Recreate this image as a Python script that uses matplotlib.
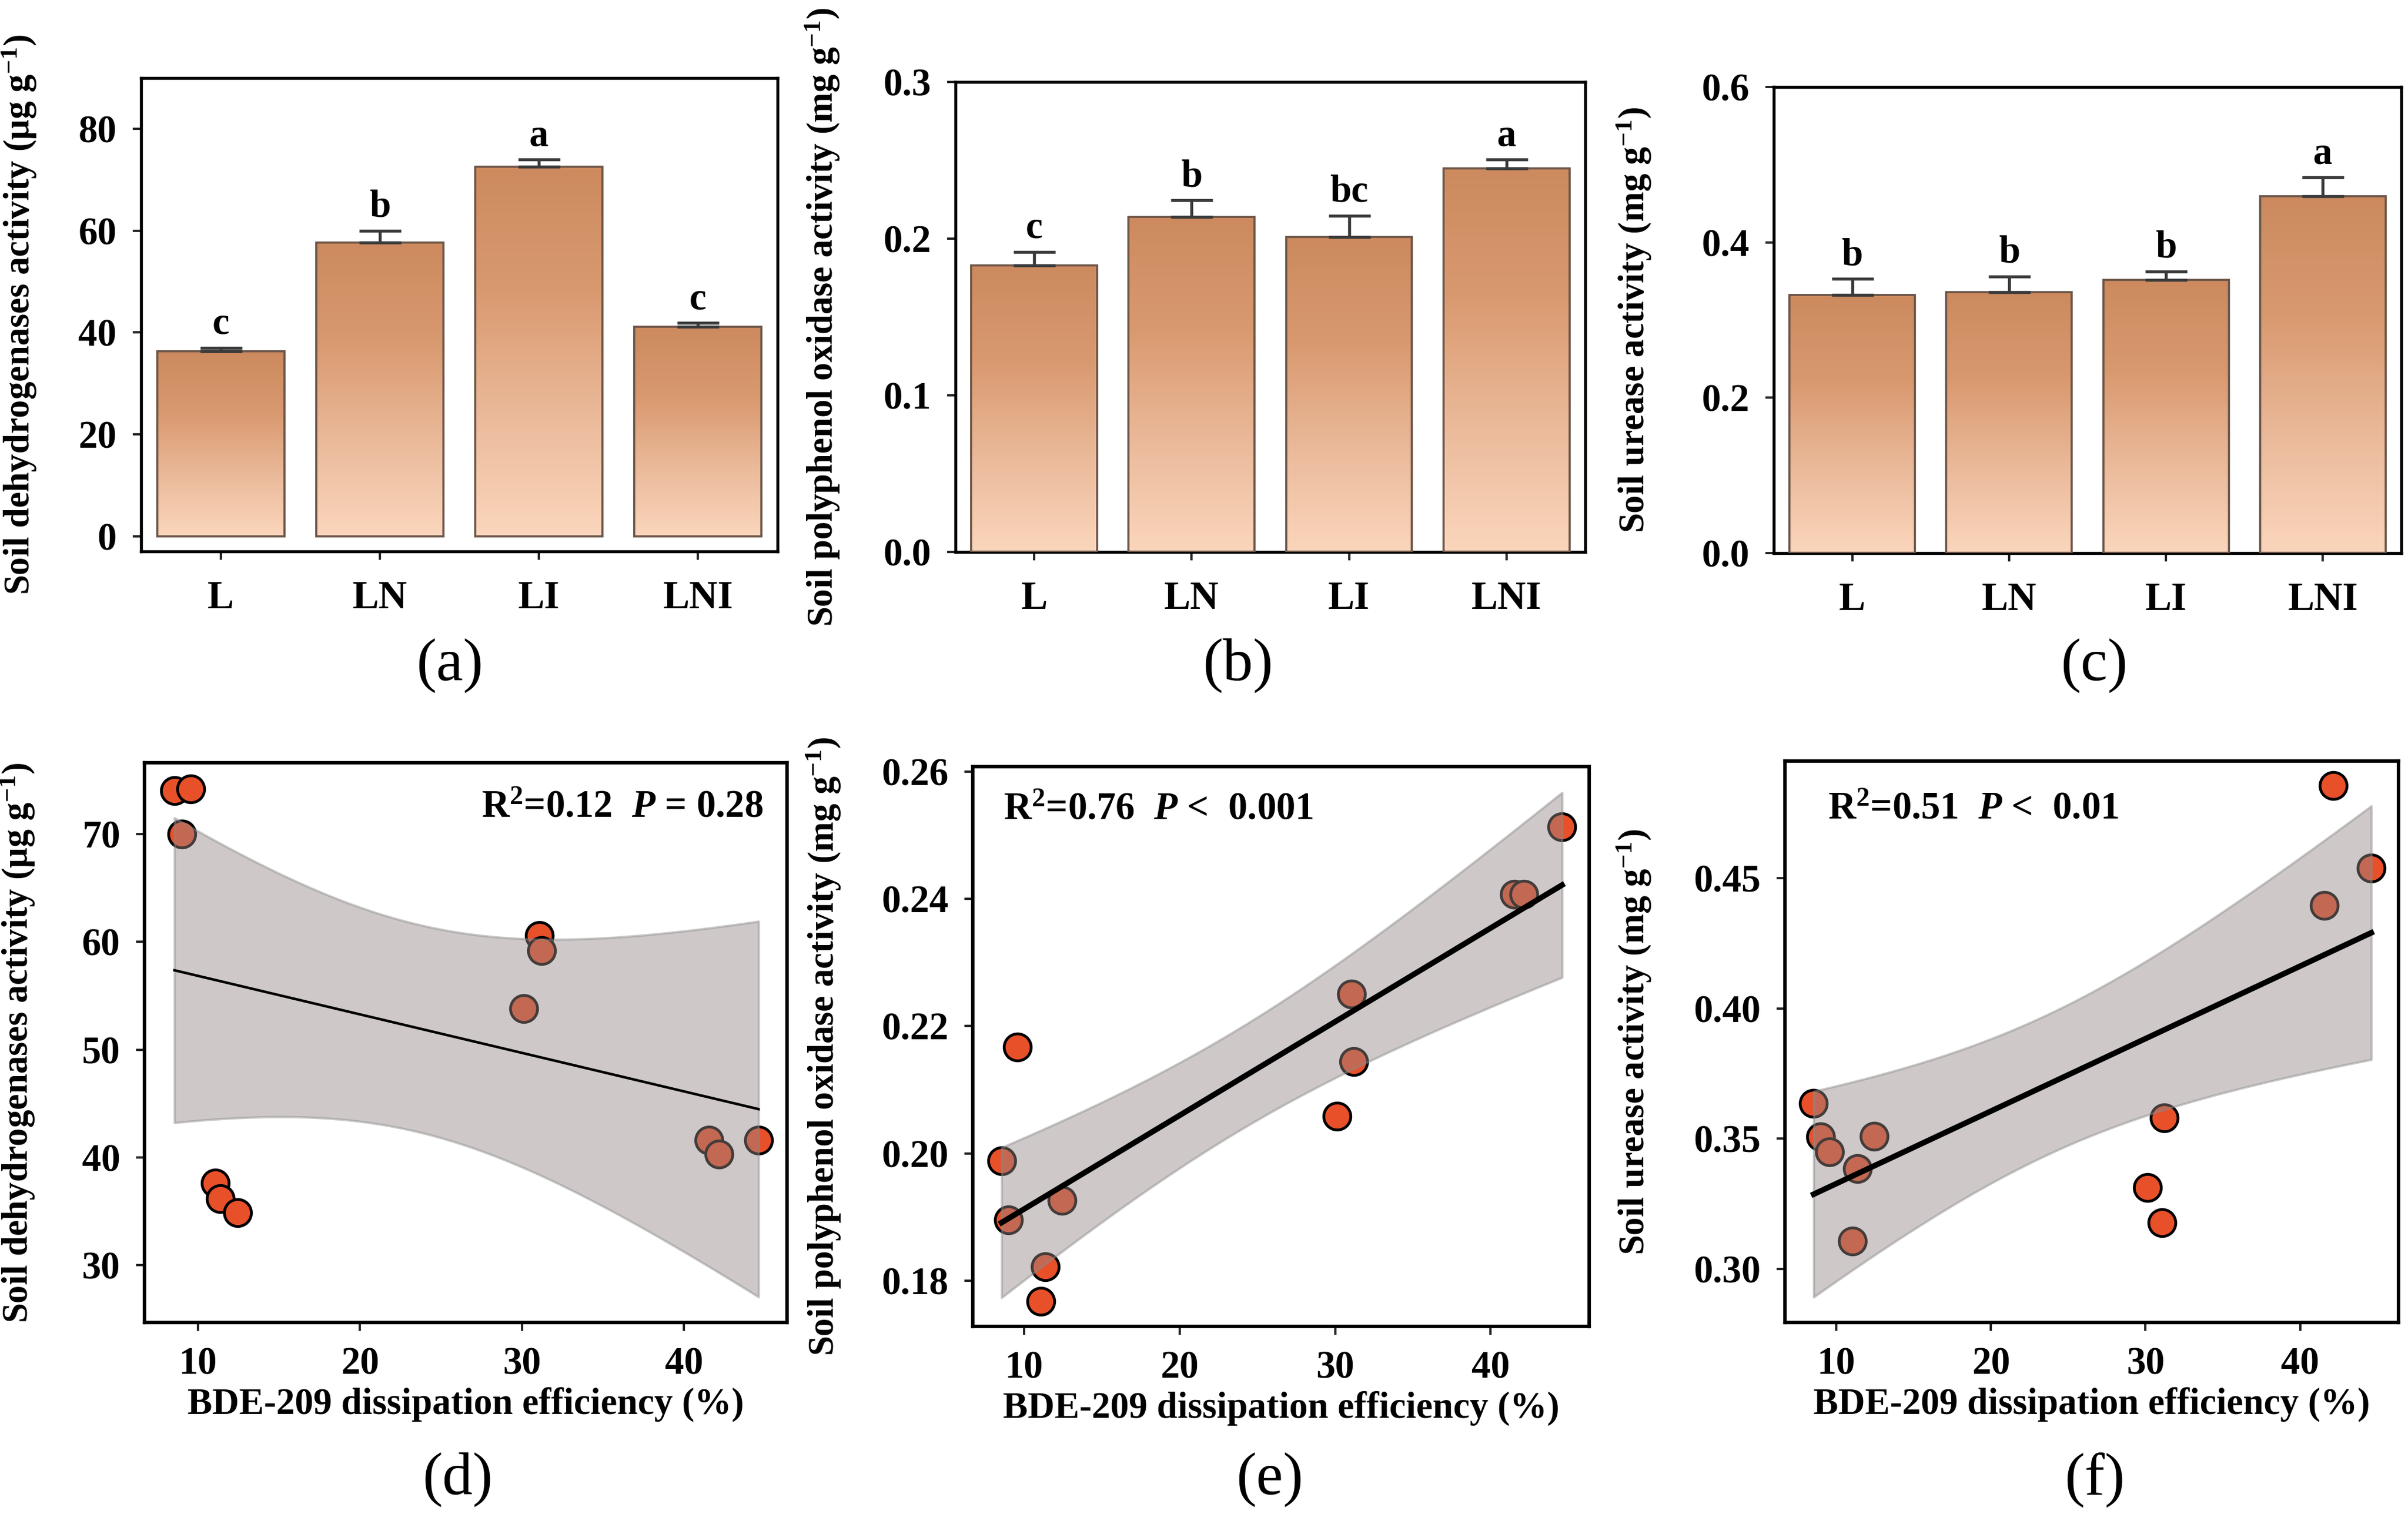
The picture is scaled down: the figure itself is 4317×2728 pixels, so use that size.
import matplotlib.pyplot as plt
import numpy as np
from matplotlib.colors import LinearSegmentedColormap

plt.rcParams['font.family'] = 'Liberation Serif'
plt.rcParams['font.weight'] = 'bold'
plt.rcParams['axes.labelweight'] = 'bold'
plt.rcParams['mathtext.fontset'] = 'custom'
plt.rcParams['mathtext.rm'] = 'Liberation Serif:bold'
plt.rcParams['mathtext.it'] = 'Liberation Serif:italic:bold'
plt.rcParams['mathtext.bf'] = 'Liberation Serif:bold'

# ---- bar data (top row) ----
treatments = ['L', 'LN', 'LI', 'LNI']
dehydrogenase_mean = [36.3, 57.7, 72.6, 41.1]
dehydrogenase_err = [0.7, 2.3, 1.4, 0.75]
dehydrogenase_letters = ['c', 'b', 'a', 'c']
polyphenol_mean = [0.183, 0.214, 0.201, 0.245]
polyphenol_err = [0.0085, 0.0105, 0.0137, 0.0055]
polyphenol_letters = ['c', 'b', 'bc', 'a']
urease_mean = [0.332, 0.336, 0.352, 0.459]
urease_err = [0.021, 0.020, 0.0106, 0.0244]
urease_letters = ['b', 'b', 'b', 'a']

# ---- scatter data (bottom row) ----
dissipation = [8.55, 9.0, 9.57, 11.07, 11.37, 12.45, 30.12, 31.07, 31.2, 41.55, 42.15, 44.6]
dehydrogenase_pts = [74.0, 70.0, 74.2, 37.6, 36.2, 34.9, 53.8, 60.6, 59.2, 41.6, 40.3, 41.6]
polyphenol_pts = [0.1988, 0.1895, 0.2167, 0.1767, 0.1822, 0.1926, 0.2058, 0.2250, 0.2144, 0.2407, 0.2407, 0.2513]
urease_pts = [0.3635, 0.3508, 0.3450, 0.3107, 0.3385, 0.3510, 0.3312, 0.3177, 0.3580, 0.4395, 0.4857, 0.4540]

FS = 16.5       # tick labels, letters, stats
FS_LABEL = 15.5  # axis titles
BAR_EDGE = '#6b5548'
ERR_COLOR = '#3a3a3a'
POINT_COLOR = '#e8502a'
BAND_COLOR = '#968785'
BAR_CMAP = LinearSegmentedColormap.from_list('bar', ['#fbd6bc', '#eab999', '#d9996f', '#cc8a5e'])
GRAD = np.linspace(0, 1, 256).reshape(-1, 1)
T_975_DF10 = 2.228


def style_axes(ax, spine_lw):
    for s in ax.spines.values():
        s.set_linewidth(spine_lw)
        s.set_color('black')
    ax.tick_params(direction='out', length=3.5, width=1.0, labelsize=FS, pad=7, color='#222222')


def gradient_bars(ax, values, errs, letters, ylim, yticks, fmt, ylabel, label_x):
    x = np.arange(len(treatments))
    bars = ax.bar(x, values, width=0.8, facecolor='none', edgecolor=BAR_EDGE, linewidth=0.9, zorder=3)
    for bar in bars:
        x0, w, h = bar.get_x(), bar.get_width(), bar.get_height()
        im = ax.imshow(GRAD, cmap=BAR_CMAP, aspect='auto', origin='lower',
                       extent=[x0, x0 + w, 0, h], zorder=2)
        im.set_clip_path(bar)
    ax.errorbar(x, values, yerr=[np.zeros(len(values)), errs], fmt='none', ecolor=ERR_COLOR,
                elinewidth=1.3, capsize=9, capthick=1.3, zorder=4)
    for xi, v, e, lab in zip(x, values, errs, letters):
        ax.annotate(lab, (xi, v + e), xytext=(0, 6), textcoords='offset points',
                    ha='center', va='baseline', fontsize=FS, fontweight='bold')
    ax.set_xlim(-0.5, 3.5)
    ax.set_ylim(*ylim)
    ax.set_xticks(x)
    ax.set_xticklabels(treatments)
    ax.set_yticks(yticks)
    ax.set_yticklabels([fmt.format(t) for t in yticks])
    ax.set_ylabel(ylabel, fontsize=FS_LABEL)
    ax.yaxis.set_label_coords(label_x, 0.5)
    style_axes(ax, 1.3)
    ax.tick_params(axis='x', pad=9, labelsize=17)


def regression_panel(ax, x, y, ylim, yticks, fmt, ylabel, label_x, stat_text, stat_pos, stat_ha, line_lw):
    x = np.asarray(x)
    y = np.asarray(y)
    ax.scatter(x, y, s=135, color=POINT_COLOR, edgecolor='black', linewidth=1.2, zorder=2)
    slope, intercept = np.polyfit(x, y, 1)
    xs = np.linspace(x.min(), x.max(), 200)
    fit = slope * xs + intercept
    resid = y - (slope * x + intercept)
    s_err = np.sqrt(np.sum(resid ** 2) / (len(x) - 2))
    half = T_975_DF10 * s_err * np.sqrt(1 / len(x) + (xs - x.mean()) ** 2 / np.sum((x - x.mean()) ** 2))
    ax.fill_between(xs, fit - half, fit + half, facecolor=BAND_COLOR, alpha=0.45,
                    edgecolor='#8a8a8a', linewidth=1.0, zorder=3)
    ax.plot(xs, fit, color='black', linewidth=line_lw, zorder=4)
    ax.text(stat_pos[0], stat_pos[1], stat_text, transform=ax.transAxes, ha=stat_ha, va='baseline',
            fontsize=FS, fontweight='bold')
    ax.set_xlim(6.7, 46.35)
    ax.set_ylim(*ylim)
    ax.set_xticks([10, 20, 30, 40])
    ax.set_yticks(yticks)
    ax.set_yticklabels([fmt.format(t) for t in yticks])
    ax.set_xlabel('BDE-209 dissipation efficiency (%)', fontsize=16)
    ax.xaxis.set_label_coords(0.5, -0.115)
    ax.set_ylabel(ylabel, fontsize=FS_LABEL)
    ax.yaxis.set_label_coords(label_x, 0.5)
    style_axes(ax, 1.5)


fig = plt.figure(figsize=(4317 / 300, 2728 / 300), dpi=300)
fig.patch.set_facecolor('white')

ax_a = fig.add_axes([0.0586, 0.6375, 0.2643, 0.3112])
ax_b = fig.add_axes([0.3968, 0.6371, 0.2615, 0.3090])
ax_c = fig.add_axes([0.7366, 0.6364, 0.2606, 0.3064])
ax_d = fig.add_axes([0.0600, 0.1305, 0.2668, 0.3680])
ax_e = fig.add_axes([0.4040, 0.1280, 0.2560, 0.3680])
ax_f = fig.add_axes([0.7413, 0.1305, 0.2547, 0.3691])

gradient_bars(ax_a, dehydrogenase_mean, dehydrogenase_err, dehydrogenase_letters,
              (-3, 90), [0, 20, 40, 60, 80], '{:.0f}',
              r'Soil dehydrogenases activity (μg g$^{-1}$)', -0.161)
gradient_bars(ax_b, polyphenol_mean, polyphenol_err, polyphenol_letters,
              (0, 0.3), [0.0, 0.1, 0.2, 0.3], '{:.1f}',
              r'Soil polyphenol oxidase activity (mg g$^{-1}$)', -0.181)
gradient_bars(ax_c, urease_mean, urease_err, urease_letters,
              (0, 0.6), [0.0, 0.2, 0.4, 0.6], '{:.1f}',
              r'Soil urease activity (mg g$^{-1}$)', -0.192)

regression_panel(ax_d, dissipation, dehydrogenase_pts, (24.7, 76.6), [30, 40, 50, 60, 70], '{:.0f}',
                 r'Soil dehydrogenases activity (μg g$^{-1}$)', -0.168,
                 r'R$^{2}$=0.12  $\mathit{P}$ = 0.28', (0.963, 0.903), 'right', 1.1)
regression_panel(ax_e, dissipation, polyphenol_pts, (0.1728, 0.2608), [0.18, 0.20, 0.22, 0.24, 0.26], '{:.2f}',
                 r'Soil polyphenol oxidase activity (mg g$^{-1}$)', -0.211,
                 r'R$^{2}$=0.76  $\mathit{P}$ <  0.001', (0.05, 0.906), 'left', 2.4)
regression_panel(ax_f, dissipation, urease_pts, (0.2794, 0.495), [0.30, 0.35, 0.40, 0.45], '{:.2f}',
                 r'Soil urease activity (mg g$^{-1}$)', -0.215,
                 r'R$^{2}$=0.51  $\mathit{P}$ <  0.01', (0.07, 0.897), 'left', 2.4)

panel_labels = ['(a)', '(b)', '(c)', '(d)', '(e)', '(f)']
label_x = [0.1867, 0.5142, 0.8696, 0.1900, 0.5274, 0.8700]
label_y = [0.5623, 0.5623, 0.5623, 0.0271, 0.0271, 0.0271]
for lab, lx, ly in zip(panel_labels, label_x, label_y):
    fig.text(lx, ly, lab, ha='center', va='center', fontsize=26, fontweight='normal')

fig.savefig('out.png', dpi=300, facecolor='white')
plt.close(fig)
